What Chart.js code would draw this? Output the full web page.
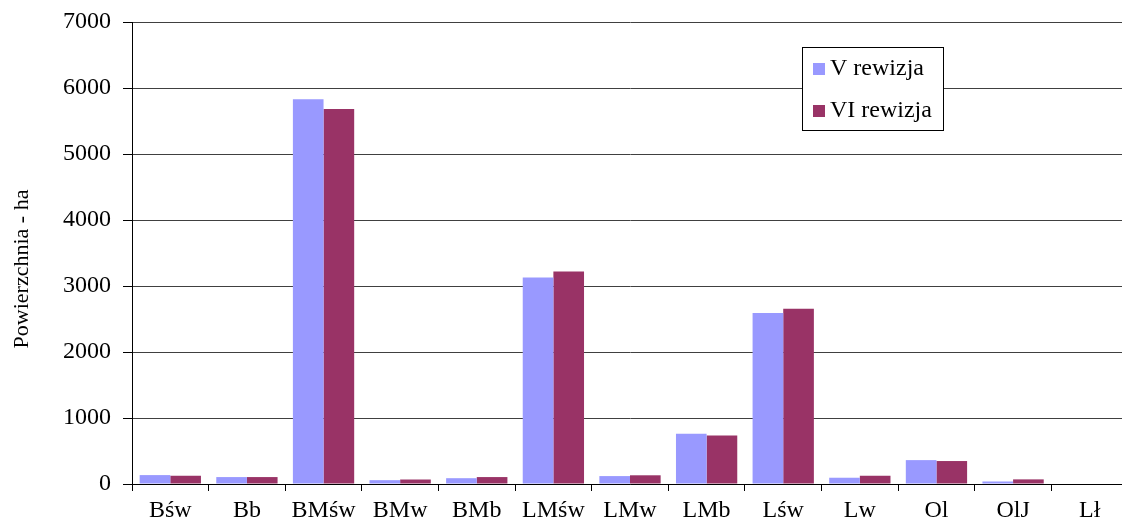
<!DOCTYPE html>
<html>
<head>
<meta charset="utf-8">
<script src="https://cdn.jsdelivr.net/npm/chart.js@4"></script>
<style>
  html, body { margin: 0; padding: 0; background: #fff; overflow: hidden; }
  #wrap { width: 1128px; height: 522px; }
</style>
</head>
<body>
<div id="wrap"><canvas id="myChart" width="1128" height="522"></canvas></div>
<script>
const categories = ["Bśw", "Bb", "BMśw", "BMw", "BMb", "LMśw", "LMw", "LMb", "Lśw", "Lw", "Ol", "OlJ", "Lł"];
const rewizjaV = [135, 105, 5830, 58, 88, 3130, 120, 760, 2590, 95, 362, 38, 0];
const rewizjaVI = [125, 105, 5680, 68, 105, 3220, 132, 735, 2655, 125, 348, 70, 0];
const yTicks = [0, 1000, 2000, 3000, 4000, 5000, 6000, 7000];
const yTitle = "Powierzchnia - ha";

const font = "'Liberation Serif', 'Times New Roman', serif";

const legendBox = {
  id: "legendBox",
  afterDraw(chart) {
    const ctx = chart.ctx;
    ctx.save();
    ctx.fillStyle = "#fff";
    ctx.fillRect(802, 47, 142, 84);
    ctx.strokeStyle = "#000";
    ctx.lineWidth = 1;
    ctx.strokeRect(802.5, 47.5, 141, 83);
    ctx.font = "24px " + font;
    ctx.textBaseline = "middle";
    chart.data.datasets.forEach((ds, i) => {
      const y = 69 + i * 42;
      ctx.fillStyle = ds.backgroundColor;
      ctx.fillRect(813, y - 6, 12, 12);
      ctx.fillStyle = "#000";
      ctx.fillText(ds.label, 830, y);
    });
    // axis title
    ctx.translate(22, 269);
    ctx.rotate(-Math.PI / 2);
    ctx.textAlign = "center";
    ctx.font = "22px " + font;
    ctx.fillText(yTitle, 0, 0);
    ctx.restore();
  }
};

new Chart("myChart", {
  type: "bar",
  data: {
    labels: categories,
    datasets: [
      { label: "V rewizja", data: rewizjaV, backgroundColor: "#9999FF" },
      { label: "VI rewizja", data: rewizjaVI, backgroundColor: "#993366" }
    ]
  },
  options: {
    responsive: false,
    animation: false,
    layout: { padding: { top: 22, left: 0, right: 0, bottom: 0 } },
    categoryPercentage: 0.8,
    barPercentage: 1,
    plugins: { legend: { display: false }, tooltip: { enabled: false } },
    scales: {
      x: {
        afterFit: (scale) => { scale.height = 38; scale.paddingLeft = 0; scale.paddingRight = 0; },
        grid: { offset: true, drawOnChartArea: false, tickLength: 7, tickColor: "#000" },
        border: { color: "#000", width: 1 },
        ticks: { color: "#000", padding: 5, maxRotation: 0, font: { family: font, size: 24 } }
      },
      y: {
        min: 0,
        max: 7000,
        afterFit: (scale) => { scale.width = 132; scale.paddingTop = 0; scale.paddingBottom = 0; },
        afterBuildTicks: (scale) => { scale.ticks = yTicks.map((v) => ({ value: v })); },
        grid: { color: "#404040", lineWidth: 1, tickLength: 9, tickColor: "#000" },
        border: { color: "#000", width: 1 },
        ticks: { color: "#000", padding: 12, font: { family: font, size: 24 }, callback: (v) => String(v) }
      }
    }
  },
  plugins: [legendBox]
});
</script>
</body>
</html>
